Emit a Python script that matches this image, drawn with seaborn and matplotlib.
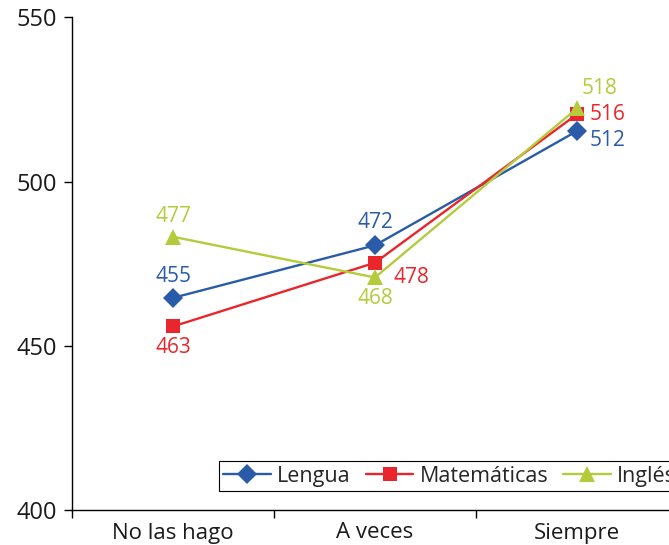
import numpy as np
import pandas as pd
import matplotlib
matplotlib.use("Agg")
import matplotlib.pyplot as plt
from matplotlib.lines import Line2D
import seaborn as sns

# ------------------------------ data ------------------------------
categories = ["No las hago", "A veces", "Siempre"]
lengua = [464.6, 480.6, 515.4]
matematicas = [455.9, 475.3, 520.5]
ingles = [483.2, 470.8, 522.3]

# value labels as printed on the chart
lengua_lbl = ["455", "472", "512"]
matematicas_lbl = ["463", "478", "516"]
ingles_lbl = ["477", "468", "518"]

series_names = ["Lengua", "Matemáticas", "Inglés"]
colors = {"Lengua": "#2A5BA8", "Matemáticas": "#E8262B", "Inglés": "#B5CB3C"}
markers = {"Lengua": "D", "Matemáticas": "s", "Inglés": "^"}
msizes = {"Lengua": 10, "Matemáticas": 10, "Inglés": 11}

df = pd.DataFrame({
    "cat": categories * 3,
    "val": lengua + matematicas + ingles,
    "serie": [s for s in series_names for _ in categories],
})

sns.set_style("white")
plt.rcParams["font.family"] = ["Open Sans", "DejaVu Sans"]

fig = plt.figure(figsize=(6.69, 5.45), dpi=100)
ax = fig.add_axes([72 / 669, 1 - 510 / 545, 606 / 669, (510 - 17.4) / 545])

for name in series_names:
    sub = df[df["serie"] == name]
    sns.lineplot(data=sub, x="cat", y="val", ax=ax, color=colors[name],
                 marker=markers[name], markersize=msizes[name],
                 markeredgewidth=0, linewidth=1.7, sort=False, legend=False)

# ------------------------------ value labels ------------------------------
# (dx, dy) in pixels, ha
lbl_pos = {
    "Lengua": [((0, 21), "center"), ((0, 23), "center"), ((13, -9), "left")],
    "Matemáticas": [((0, -21), "center"), ((18, -15), "left"), ((13, 0), "left")],
    "Inglés": [((0, 20), "center"), ((0, -21), "center"), ((5, 20), "left")],
}
all_vals = {"Lengua": lengua, "Matemáticas": matematicas, "Inglés": ingles}
all_lbls = {"Lengua": lengua_lbl, "Matemáticas": matematicas_lbl, "Inglés": ingles_lbl}
for name in series_names:
    for i, (v, t) in enumerate(zip(all_vals[name], all_lbls[name])):
        (dx, dy), ha = lbl_pos[name][i]
        ax.annotate(t, (i, v), xytext=(dx, dy), textcoords="offset pixels",
                    ha=ha, va="center", color=colors[name], fontsize=15)

# ------------------------------ axes ------------------------------
ax.set_ylim(400, 550)
ax.set_yticks([400, 450, 500, 550])
ax.set_xlim(-0.5, 2.5)
ax.set_xticks(range(3))
ax.set_xticklabels(categories)
ax.set_xticks([-0.5, 0.5, 1.5, 2.5], minor=True)
ax.tick_params(axis="x", which="major", length=0, pad=9, labelsize=16, colors="#1a1a1a")
ax.tick_params(axis="x", which="minor", length=6, width=1, direction="out", color="black", bottom=True)
ax.tick_params(axis="y", length=6, width=1, direction="out", color="black", left=True,
               pad=5, labelsize=17, labelcolor="#1a1a1a")
ax.set_xlabel("")
ax.set_ylabel("")
for s in ["top", "right"]:
    ax.spines[s].set_visible(False)
for s in ["left", "bottom"]:
    ax.spines[s].set_color("black")
    ax.spines[s].set_linewidth(1)

handles = [Line2D([], [], color=colors[n], marker=markers[n], markersize=msizes[n],
                  markeredgewidth=0, linewidth=1.7) for n in series_names]
leg = ax.legend(handles, series_names, ncol=3, loc="lower left",
                bbox_to_anchor=(147 / 606, 19 / 492.6), frameon=True, fancybox=False,
                framealpha=1, edgecolor="black", fontsize=15.5, handlelength=2.2,
                handletextpad=0.3, columnspacing=0.7, borderpad=0.2,
                borderaxespad=0)
leg.get_frame().set_linewidth(0.8)

fig.savefig("out.png", dpi=100)
